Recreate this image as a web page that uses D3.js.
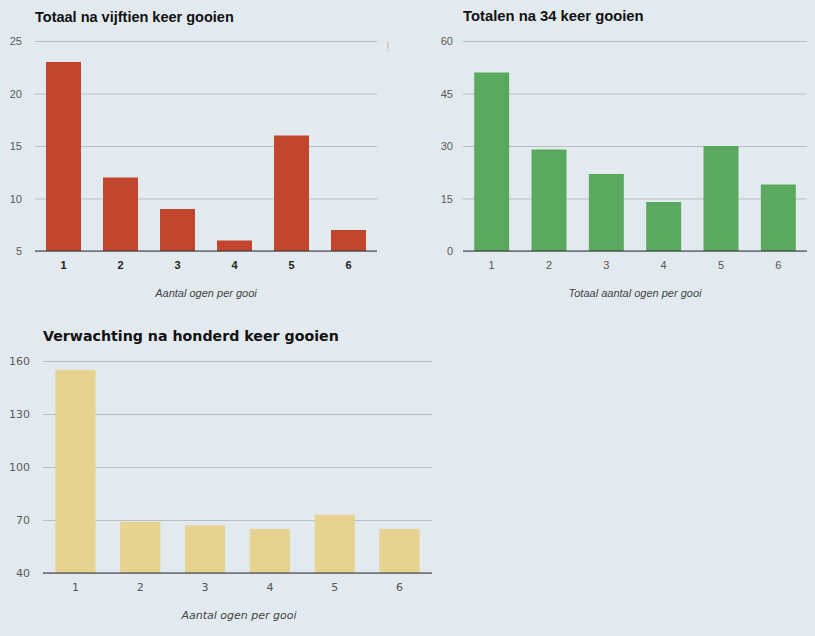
<!DOCTYPE html>
<html><head><meta charset="utf-8">
<script src="https://cdn.jsdelivr.net/npm/d3@7"></script>
<style>
html,body{margin:0;padding:0;background:#e2eaef;}
svg{display:block;}
</style></head>
<body>
<svg id="c" width="815" height="636"></svg>
<script>
const categories = ["1","2","3","4","5","6"];
const values15 = [23, 12, 9, 6, 16, 7];
const values34 = [51, 29, 22, 14, 30, 19];
const values100 = [155, 69, 67, 65, 73, 65];
const ticks15 = [5, 10, 15, 20, 25];
const ticks34 = [0, 15, 30, 45, 60];
const ticks100 = [40, 70, 100, 130, 160];
const titles = ["Totaal na vijftien keer gooien", "Totalen na 34 keer gooien", "Verwachting na honderd keer gooien"];
const xTitles = ["Aantal ogen per gooi", "Totaal aantal ogen per gooi", "Aantal ogen per gooi"];

const svg = d3.select("#c");
svg.append("rect").attr("width",815).attr("height",636).attr("fill","#e2eaef");

function chart(cfg){
  const g = svg.append("g");
  const x = d3.scaleBand().domain(categories).range([cfg.x0, cfg.x1]).paddingInner(cfg.pad).paddingOuter(cfg.pad/2);
  const y = d3.scaleLinear().domain([cfg.ticks[0], cfg.ticks[cfg.ticks.length-1]]).range([cfg.yb, cfg.yt]);
  const yAxis = d3.axisLeft(y).tickValues(cfg.ticks).tickSize(-(cfg.x1-cfg.x0)).tickPadding(cfg.tickPad);
  const ga = g.append("g").attr("transform",`translate(${cfg.x0},0)`).call(yAxis);
  ga.select(".domain").remove();
  ga.selectAll(".tick line").attr("stroke","#b7bfc4").attr("stroke-width",1);
  ga.selectAll(".tick text").attr("fill","#5a5a5a").attr("font-family",cfg.font).attr("font-size",cfg.yfs);
  g.selectAll("rect.bar").data(cfg.values).enter().append("rect")
    .attr("class","bar")
    .attr("x",(d,i)=>x(categories[i]))
    .attr("width",x.bandwidth())
    .attr("y",d=>y(d))
    .attr("height",d=>y(cfg.ticks[0])-y(d))
    .attr("fill",cfg.color);
  const xAxis = d3.axisBottom(x).tickSize(0).tickPadding(cfg.xPad);
  const gx = g.append("g").attr("transform",`translate(0,${cfg.yb})`).call(xAxis);
  gx.select(".domain").attr("stroke","#333").attr("stroke-width",1.2).attr("d",`M${cfg.x0},0H${cfg.x1}`);
  gx.selectAll(".tick text").attr("fill",cfg.xBold?"#222":"#555").attr("font-weight",cfg.xBold?"bold":"normal")
    .attr("font-family",cfg.font).attr("font-size",cfg.xfs);
  g.append("text").attr("x",cfg.x0).attr("y",cfg.titleY).text(cfg.title)
    .attr("font-family",cfg.font).attr("font-weight","bold").attr("font-size",cfg.tfs).attr("fill","#111");
  g.append("text").attr("x",cfg.xtX).attr("y",cfg.xtY).attr("text-anchor","middle").text(cfg.xTitle)
    .attr("font-family",cfg.font).attr("font-style","italic").attr("font-size",cfg.xtfs).attr("fill","#444");
}

chart({x0:35,x1:377,yt:41,yb:251,pad:0.386,values:values15,ticks:ticks15,color:"#c1462d",
  font:"Liberation Sans, Arial, sans-serif",yfs:11,xfs:11,xBold:true,xPad:10,tickPad:13,
  title:titles[0],titleY:22,tfs:14.5,xTitle:xTitles[0],xtX:206,xtY:297,xtfs:11});
chart({x0:463,x1:807,yt:41,yb:251,pad:0.39,values:values34,ticks:ticks34,color:"#5ba85f",
  font:"Liberation Sans, Arial, sans-serif",yfs:11,xfs:11,xBold:false,xPad:10,tickPad:10,
  title:titles[1],titleY:21,tfs:14.8,xTitle:xTitles[1],xtX:635,xtY:297,xtfs:11});
chart({x0:43,x1:432,yt:361,yb:573,pad:0.38,values:values100,ticks:ticks100,color:"#e6d390",
  font:"DejaVu Sans, Verdana, sans-serif",yfs:11,xfs:11,xBold:false,xPad:10,tickPad:13,
  title:titles[2],titleY:341,tfs:14.2,xTitle:xTitles[2],xtX:239,xtY:619,xtfs:11});

svg.append("text").attr("x",388).attr("y",51).attr("text-anchor","middle").text("!")
  .attr("font-family","Liberation Sans, Arial, sans-serif").attr("font-size",12).attr("fill","#e9a9a4");
</script>
</body></html>
